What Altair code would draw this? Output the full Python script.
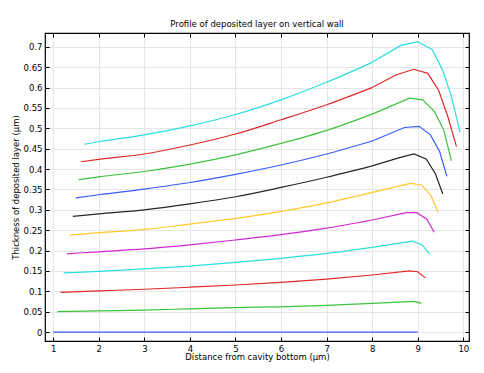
import altair as alt
import pandas as pd

colors = ["#3a5cff", "#3cc43c", "#e02828", "#2adede", "#d02ad0", "#ffc82a",
          "#262626", "#3a5cff", "#3cc43c", "#e02828", "#2adede"]

x0 = [1.0, 9.0]
y0 = [0.0, 0.0]
x1 = [1.09, 2, 3, 4, 5, 6, 7, 8, 8.93, 9.08]
y1 = [0.050, 0.052, 0.054, 0.057, 0.060, 0.062, 0.0655, 0.0705, 0.0754, 0.0705]
x2 = [1.16, 2, 3, 4, 5, 6, 7, 8, 8.82, 9.0, 9.17]
y2 = [0.0975, 0.101, 0.105, 0.110, 0.1155, 0.122, 0.130, 0.140, 0.150, 0.148, 0.133]
x3 = [1.23, 2, 3, 4, 5, 6, 7, 8, 8.88, 9.09, 9.26]
y3 = [0.145, 0.149, 0.155, 0.162, 0.171, 0.181, 0.193, 0.208, 0.223, 0.2145, 0.192]
x4 = [1.30, 2, 3, 4, 5, 6, 7, 8, 8.75, 8.98, 9.20, 9.36]
y4 = [0.192, 0.197, 0.204, 0.214, 0.226, 0.239, 0.255, 0.275, 0.293, 0.293, 0.277, 0.245]
x5 = [1.37, 2, 3, 4, 5, 6, 7, 8, 8.84, 9.08, 9.28, 9.45]
y5 = [0.238, 0.244, 0.252, 0.265, 0.279, 0.296, 0.317, 0.343, 0.365, 0.361, 0.337, 0.294]
x6 = [1.43, 2, 3, 4, 5, 6, 7, 8, 8.60, 8.92, 9.19, 9.39, 9.55]
y6 = [0.284, 0.290, 0.300, 0.3145, 0.332, 0.355, 0.380, 0.408, 0.428, 0.437, 0.424, 0.388, 0.339]
x7 = [1.49, 2, 3, 4, 5, 6, 7, 8, 8.71, 9.03, 9.28, 9.48, 9.64]
y7 = [0.329, 0.337, 0.351, 0.367, 0.387, 0.410, 0.437, 0.469, 0.502, 0.505, 0.484, 0.443, 0.382]
x8 = [1.56, 2, 3, 4, 5, 6, 7, 8, 8.82, 9.11, 9.37, 9.57, 9.74]
y8 = [0.374, 0.381, 0.394, 0.412, 0.435, 0.463, 0.495, 0.535, 0.574, 0.570, 0.541, 0.496, 0.420]
x9 = [1.61, 2, 3, 4, 5, 6, 7, 8, 8.52, 8.91, 9.22, 9.46, 9.66, 9.85]
y9 = [0.418, 0.424, 0.437, 0.459, 0.486, 0.521, 0.558, 0.600, 0.631, 0.645, 0.635, 0.593, 0.529, 0.455]
x10 = [1.68, 2, 3, 4, 5, 6, 7, 8, 8.62, 9.0, 9.32, 9.55, 9.74, 9.93]
y10 = [0.461, 0.467, 0.484, 0.506, 0.534, 0.570, 0.613, 0.662, 0.703, 0.713, 0.693, 0.642, 0.578, 0.490]

x_ticks = [1, 2, 3, 4, 5, 6, 7, 8, 9, 10]
y_ticks = [0, 0.05, 0.1, 0.15, 0.2, 0.25, 0.3, 0.35, 0.4, 0.45, 0.5, 0.55, 0.6, 0.65, 0.7]

curves = [(x0, y0), (x1, y1), (x2, y2), (x3, y3), (x4, y4), (x5, y5),
          (x6, y6), (x7, y7), (x8, y8), (x9, y9), (x10, y10)]
rows = []
for i, (xs, ys) in enumerate(curves):
    last_smooth = max(k for k, a in enumerate(xs) if a <= 8)
    for j, (a, b) in enumerate(zip(xs, ys)):
        if j <= last_smooth:
            rows.append({"curve": i, "order": j, "x": a, "y": b, "part": "smooth"})
        if j >= last_smooth:
            rows.append({"curve": i, "order": j, "x": a, "y": b, "part": "peak"})
df = pd.DataFrame(rows)

FONT = "DejaVu Sans"
FS = 8.5
xscale = alt.Scale(domain=[0.82, 10.125], nice=False, zero=False)
yscale = alt.Scale(domain=[-0.022, 0.734], nice=False, zero=False)
cscale = alt.Scale(domain=list(range(11)), range=colors)

common = dict(domain=False, tickColor="#000000", tickSize=4, offset=-4,
              labelFont=FONT, labelFontSize=FS, labelColor="#000000",
              titleFont=FONT, titleFontSize=FS, titleColor="#000000",
              titleFontWeight="normal", gridColor="#e6e6e6", gridWidth=1)

xenc = alt.X("x:Q", scale=xscale,
             axis=alt.Axis(values=x_ticks, format="d", labelPadding=3,
                           title="Distance from cavity bottom (µm)", titlePadding=0,
                           **common))
yenc = alt.Y("y:Q", scale=yscale,
             axis=alt.Axis(values=y_ticks, format="~g", labelPadding=3,
                           title="Thickness of deposited layer (µm)", titlePadding=3,
                           **common))
cenc = alt.Color("curve:N", scale=cscale, legend=None)

smooth = alt.Chart(df).transform_filter(alt.datum.part == "smooth").mark_line(
    strokeWidth=1.2, clip=True, interpolate="monotone"
).encode(x=xenc, y=yenc, color=cenc, detail="curve:N", order="order:Q")

peak = alt.Chart(df).transform_filter(alt.datum.part == "peak").mark_line(
    strokeWidth=1.2, clip=True
).encode(x=alt.X("x:Q", scale=xscale, axis=None),
         y=alt.Y("y:Q", scale=yscale, axis=None),
         color=cenc, detail="curve:N", order="order:Q")

frame_axes = alt.Chart(df).mark_line(opacity=0).encode(
    x=alt.X("x:Q", scale=xscale,
            axis=alt.Axis(orient="top", values=x_ticks, labels=False, title=None,
                          grid=False, domain=False, tickColor="#000000",
                          tickSize=4, offset=-4)),
    y=alt.Y("y:Q", scale=yscale,
            axis=alt.Axis(orient="right", values=y_ticks, labels=False, title=None,
                          grid=False, domain=False, tickColor="#000000",
                          tickSize=4, offset=-4)),
    detail="curve:N",
)

chart = alt.layer(smooth, peak, frame_axes).resolve_axis(
    x="independent", y="independent"
).properties(
    width=424, height=308,
    autosize=alt.AutoSizeParams(type="none"),
    padding={"left": 37, "top": 25, "right": 7, "bottom": 24},
    title=alt.TitleParams("Profile of deposited layer on vertical wall",
                          font=FONT, fontSize=FS, fontWeight="normal",
                          color="#000000", offset=4),
    background="#ffffff",
).configure_view(stroke="#000000", strokeWidth=1.2)

chart.save("out.html", embed_options={"renderer": "svg", "actions": False})
